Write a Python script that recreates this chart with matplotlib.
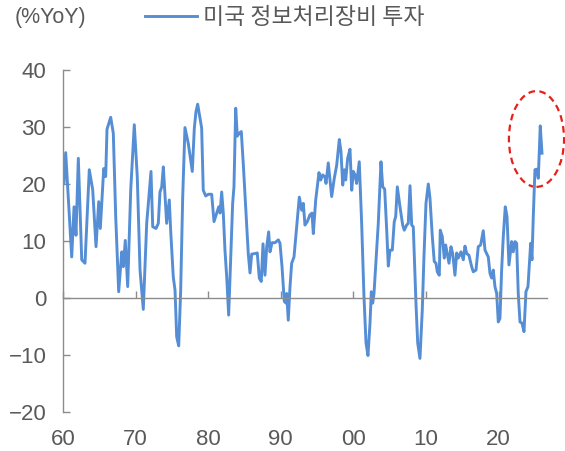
import matplotlib
matplotlib.use("Agg")
import matplotlib.pyplot as plt
from matplotlib.patches import Ellipse
from matplotlib.transforms import blended_transform_factory

plt.rcParams['font.family'] = ['Liberation Sans', 'Noto Sans CJK KR', 'DejaVu Sans']

# ---- data ----
years = [1960.14, 1960.37, 1961.20, 1961.52, 1961.79, 1962.11, 1962.58, 1963.03, 1963.62, 1964.09,
         1964.55, 1964.92, 1965.14, 1965.61, 1965.88, 1966.06, 1966.57, 1966.93, 1967.26, 1967.67,
         1968.09, 1968.31, 1968.58, 1968.91, 1969.33, 1969.82, 1970.23, 1970.61, 1971.06, 1971.53,
         1972.12, 1972.36, 1972.81, 1973.13, 1973.36, 1973.60, 1973.82, 1974.28, 1974.64, 1974.83,
         1975.19, 1975.43, 1975.66, 1975.94, 1976.21, 1976.49, 1976.80, 1977.26, 1977.81, 1978.09,
         1978.32, 1978.55, 1979.10, 1979.32, 1979.66, 1980.01, 1980.48, 1980.80, 1981.17, 1981.45,
         1981.63, 1981.86, 1982.08, 1982.31, 1982.55, 1982.82, 1983.10, 1983.37, 1983.55, 1983.79,
         1984.01, 1984.28, 1984.56, 1984.83, 1985.21, 1985.52, 1985.76, 1985.99, 1986.45, 1986.76,
         1987.04, 1987.31, 1987.55, 1987.82, 1988.06, 1988.33, 1988.51, 1988.79, 1989.20, 1989.66,
         1989.89, 1990.17, 1990.48, 1990.72, 1990.81, 1991.03, 1991.27, 1991.50, 1991.82, 1992.19,
         1992.55, 1992.88, 1993.10, 1993.33, 1993.65, 1994.02, 1994.30, 1994.48, 1994.81, 1995.26,
         1995.50, 1995.77, 1996.09, 1996.23, 1996.54, 1997.01, 1997.37, 1997.70, 1998.06, 1998.29,
         1998.53, 1998.75, 1998.94, 1999.21, 1999.53, 1999.77, 1999.99, 2000.22, 2000.45, 2000.81,
         2001.14, 2001.46, 2001.74, 2002.01, 2002.29, 2002.47, 2002.66, 2002.84, 2003.43, 2003.80,
         2004.04, 2004.31, 2004.59, 2004.81, 2005.04, 2005.36, 2005.63, 2005.83, 2006.05, 2006.42,
         2006.79, 2007.01, 2007.34, 2007.56, 2007.80, 2008.03, 2008.25, 2008.62, 2008.86, 2009.17,
         2009.49, 2009.72, 2010.00, 2010.32, 2010.55, 2010.87, 2011.14, 2011.38, 2011.56, 2011.83,
         2011.97, 2012.24, 2012.52, 2012.71, 2012.93, 2013.17, 2013.44, 2013.68, 2013.99, 2014.23,
         2014.45, 2014.82, 2015.14, 2015.37, 2015.61, 2015.92, 2016.29, 2016.51, 2016.89, 2017.20,
         2017.53, 2017.89, 2018.13, 2018.58, 2018.82, 2019.05, 2019.27, 2019.50, 2019.74, 2019.96,
         2020.19, 2020.42, 2020.65, 2020.92, 2021.16, 2021.43, 2021.80, 2022.02, 2022.26, 2022.49,
         2022.71, 2022.95, 2023.22, 2023.50, 2023.77, 2024.05, 2024.42, 2024.60, 2024.78, 2025.01,
         2025.25, 2025.47, 2025.74, 2025.98]
yoy = [20.2, 25.5, 7.2, 16.0, 11.0, 24.5, 6.7, 6.1, 22.5, 19.0,
       9.0, 16.9, 12.2, 22.7, 21.3, 29.6, 31.7, 28.9, 14.3, 1.1,
       8.1, 5.5, 10.1, 2.0, 19.0, 30.4, 21.3, 4.9, -2.0, 13.1,
       22.2, 12.5, 12.2, 13.1, 18.6, 19.5, 23.0, 13.1, 17.2, 11.9,
       3.7, 1.4, -6.8, -8.4, 1.4, 17.8, 29.9, 27.1, 22.2, 29.8,
       32.7, 34.0, 29.8, 18.9, 17.9, 18.2, 18.2, 13.4, 14.9, 16.0,
       14.9, 18.6, 14.9, 8.4, 3.7, -3.0, 7.2, 16.6, 19.5, 33.3,
       28.4, 28.9, 29.2, 23.6, 14.9, 7.8, 4.4, 7.7, 7.8, 7.9,
       3.5, 2.9, 9.5, 4.0, 9.0, 11.6, 8.1, 9.7, 9.7, 10.2,
       9.6, 5.5, -0.6, -0.9, 0.8, -3.9, 2.0, 6.1, 7.2, 12.5,
       17.7, 15.4, 16.6, 12.8, 13.4, 14.6, 14.9, 11.3, 17.2, 22.0,
       20.7, 21.6, 21.2, 20.1, 23.7, 17.8, 21.0, 23.3, 27.8, 25.7,
       19.8, 22.5, 20.7, 24.5, 26.1, 18.9, 22.2, 21.6, 20.1, 23.9,
       13.1, 0.2, -7.9, -10.1, -4.4, 1.1, -0.9, 0.8, 13.1, 23.9,
       19.5, 19.1, 11.9, 5.6, 8.4, 8.4, 13.4, 14.3, 19.5, 16.0,
       12.8, 11.9, 12.8, 13.1, 19.7, 12.8, 12.5, -0.9, -7.9, -10.6,
       -2.1, 7.2, 16.6, 20.0, 17.5, 10.8, 6.4, 6.1, 4.6, 4.0,
       11.9, 10.8, 7.0, 9.3, 7.8, 6.1, 9.0, 7.8, 4.0, 7.9,
       7.0, 8.1, 6.7, 9.1, 7.8, 7.5, 5.5, 4.6, 4.9, 9.0,
       9.3, 11.8, 8.4, 7.2, 4.3, 3.5, 4.9, 2.0, 0.8, -4.2,
       -3.6, 4.9, 10.8, 16.0, 14.3, 5.8, 9.9, 8.1, 9.9, 9.6,
       0.8, -4.2, -4.4, -5.9, 1.1, 2.0, 9.6, 6.7, 14.3, 22.5,
       22.6, 21.0, 30.2, 25.4]

x_ticks = [1960, 1970, 1980, 1990, 2000, 2010, 2020]
x_tick_labels = ['60', '70', '80', '90', '00', '10', '20']
y_ticks = [-20, -10, 0, 10, 20, 30, 40]
series_label = '미국 정보처리장비 투자'
unit_label = '(%YoY)'

# highlight ellipse (data coords)
hl_center = (2025.22, 27.9)
hl_width = 7.6
hl_height = 16.8

line_color = '#558ED5'
axis_color = '#8C8C8C'
text_color = '#595959'

W, H = 565, 451
fig = plt.figure(figsize=(W / 100, H / 100), dpi=100)
ax = fig.add_axes([63 / W, (H - 412) / H, 484 / W, 342 / H])

line, = ax.plot(years, yoy, color=line_color, lw=2.1, solid_joinstyle='round', label=series_label)

ax.set_xlim(1960, 2026.67)
ax.set_ylim(-20, 40)

for s in ['top', 'right']:
    ax.spines[s].set_visible(False)
ax.spines['left'].set_color(axis_color)
ax.spines['bottom'].set_color(axis_color)
ax.spines['left'].set_linewidth(1.0)
ax.spines['bottom'].set_linewidth(1.0)
ax.spines['bottom'].set_position(('data', 0))

ax.set_yticks(y_ticks)
ax.set_yticklabels([f'{v}' if v >= 0 else f'\u2212{abs(v)}' for v in y_ticks])
ax.tick_params(axis='y', direction='in', length=5, width=1, color=axis_color,
               labelsize=16, labelcolor=text_color, pad=12)
ax.set_xticks(x_ticks)
ax.tick_params(axis='x', direction='in', length=5, width=1, color=axis_color,
               labelbottom=False)

trans = blended_transform_factory(ax.transData, ax.transAxes)
for t, lbl in zip(x_ticks, x_tick_labels):
    ax.annotate(lbl, xy=(t, 0), xycoords=trans, xytext=(0, -12), textcoords='offset points',
                ha='center', va='top', fontsize=16, color=text_color)

ell = Ellipse(hl_center, hl_width, hl_height, fill=False, edgecolor='#E8201A',
              linestyle=(0, (3, 2)), lw=1.6, clip_on=False)
ax.add_patch(ell)

fig.text(15 / W, 1 - 18 / H, unit_label, ha='left', va='center', fontsize=15.5, color=text_color)
leg = ax.legend(handles=[line], loc='center left', bbox_to_anchor=(145 / W, 1 - 18 / H),
                bbox_transform=fig.transFigure, frameon=False, fontsize=16.5,
                handlelength=2.25, handletextpad=0.26, borderpad=0, borderaxespad=0)
for txt in leg.get_texts():
    txt.set_color(text_color)
    txt.set_family(['Noto Sans CJK KR', 'DejaVu Sans'])

fig.savefig('out.png', dpi=100)
